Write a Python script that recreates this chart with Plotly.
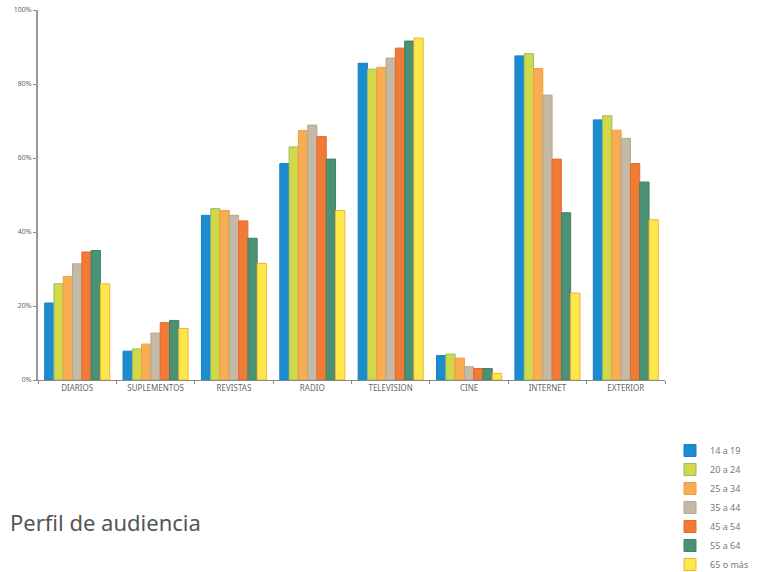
import plotly.graph_objects as go

categories = ["DIARIOS", "SUPLEMENTOS", "REVISTAS", "RADIO", "TELEVISION", "CINE", "INTERNET", "EXTERIOR"]
series_names = ["14 a 19", "20 a 24", "25 a 34", "35 a 44", "45 a 54", "55 a 64", "65 o más"]

v_14_19 = [20.8, 7.8, 44.5, 58.5, 85.6, 6.6, 87.6, 70.3]
v_20_24 = [26.0, 8.4, 46.3, 63.0, 84.0, 7.0, 88.2, 71.4]
v_25_34 = [28.0, 9.7, 45.8, 67.4, 84.5, 5.9, 84.2, 67.5]
v_35_44 = [31.4, 12.7, 44.5, 68.9, 87.0, 3.6, 77.0, 65.3]
v_45_54 = [34.6, 15.5, 43.0, 65.8, 89.7, 3.1, 59.7, 58.5]
v_55_64 = [35.0, 16.1, 38.3, 59.7, 91.6, 3.1, 45.2, 53.5]
v_65_mas = [26.0, 13.9, 31.5, 45.8, 92.4, 1.8, 23.5, 43.3]

values = [v_14_19, v_20_24, v_25_34, v_35_44, v_45_54, v_55_64, v_65_mas]
fills = ["#1b8ccd", "#d3d84b", "#f8ad52", "#c3b9a5", "#ef7b36", "#4b9174", "#fde84c"]
borders = ["#1b7fc0", "#8fbf6a", "#f59a3f", "#b3a994", "#e9692a", "#3f8366", "#f6b13a"]

fig = go.Figure()
for name, vals, fc, bc in zip(series_names, values, fills, borders):
    fig.add_trace(go.Bar(
        x=categories, y=vals, name=name,
        marker=dict(color=fc, line=dict(color=bc, width=1)),
    ))

fig.update_layout(
    width=760, height=572,
    margin=dict(l=38, r=95, t=10, b=192, autoexpand=False),
    paper_bgcolor="white", plot_bgcolor="white",
    barmode="group", bargap=0.17, bargroupgap=0,
    font=dict(family="Noto Sans", color="#666666", size=8),
    showlegend=True,
    legend=dict(
        xref="container", yref="container",
        x=670 / 760, y=1 - 436 / 572, xanchor="left", yanchor="top",
        font=dict(size=9, color="#777777"),
        itemwidth=30, tracegroupgap=0,
        bgcolor="rgba(0,0,0,0)",
    ),
    xaxis=dict(
        showline=True, linecolor="#888888", linewidth=1,
        ticks="outside", tickson="boundaries", ticklen=3, tickcolor="#888888",
        tickfont=dict(size=8, color="#666666"),
        showgrid=False, automargin=False,
    ),
    yaxis=dict(
        range=[0, 100], dtick=20, ticksuffix="%",
        showline=True, linecolor="#999999", linewidth=2,
        ticks="outside", ticklen=3, tickcolor="#888888",
        tickfont=dict(size=7, color="#666666"),
        showgrid=False, zeroline=False, automargin=False,
    ),
)

fig.add_annotation(
    text="Perfil de audiencia", xref="paper", yref="paper",
    x=-30 / 627, y=(380 - 522) / 370, xanchor="left", yanchor="middle",
    showarrow=False, font=dict(size=22, color="#555555", family="Noto Sans"),
)

fig.write_html("out.html")
